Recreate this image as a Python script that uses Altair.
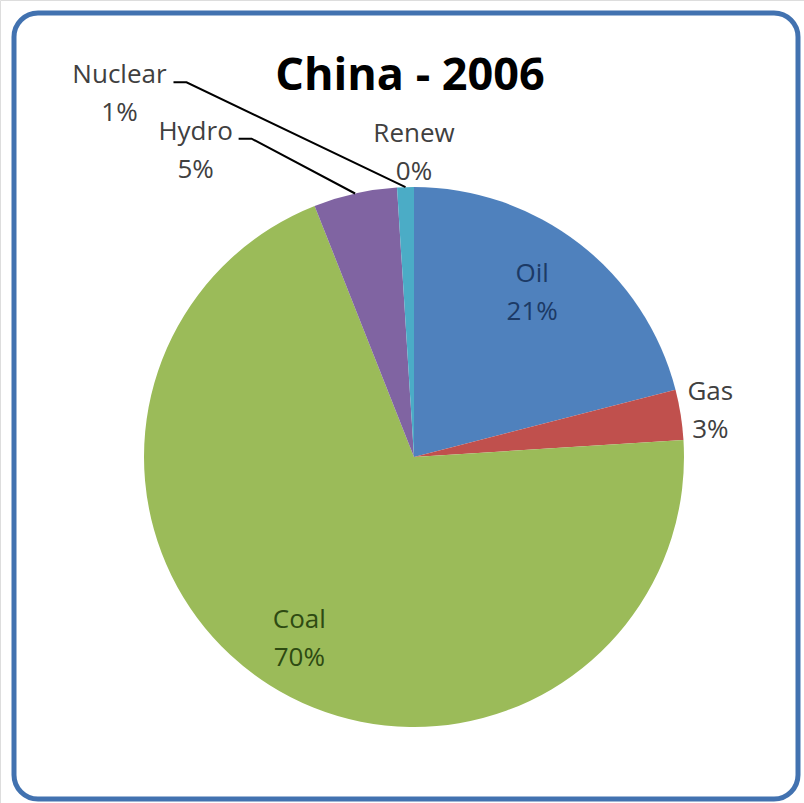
import math
import altair as alt
import pandas as pd

# Primary energy mix, China 2006 (percent of total)
CATEGORIES = ["Oil", "Gas", "Coal", "Hydro", "Nuclear", "Renew"]
SHARES = [21, 3, 70, 5, 1, 0]
SLICE_COLORS = ["#4F81BD", "#C0504D", "#9BBB59", "#8064A2", "#4BACC6", "#F79646"]
TEXT_COLORS = ["#1c3a66", "#404040", "#2e4a12", "#404040", "#404040", "#404040"]

TITLE = "China - 2006"
FONT = "Open Sans"

# Pie geometry (pixels)
CX, CY, R = 414, 457, 270

# Label placement: distance from centre and angular nudge from slice mid-angle
LABEL_RADIUS = {"Oil": 203, "Gas": 300, "Coal": 214, "Hydro": 377, "Nuclear": 468, "Renew": 305}
LABEL_SHIFT = {"Oil": -2.2, "Gas": 0, "Coal": 0, "Hydro": -22.8, "Nuclear": -37.2, "Renew": 0}
# Leader lines for the labels pulled away from their slices: gap to the right of label centre
LEADER_GAP = {"Hydro": 43, "Nuclear": 54}

total = sum(SHARES)
pie = pd.DataFrame({"category": CATEGORIES, "share": SHARES, "order": range(len(CATEGORIES))})

labels, leaders = [], []
acc = 0.0
for cat, val, tcol in zip(CATEGORIES, SHARES, TEXT_COLORS):
    mid = (acc + val / 2) / total * 360
    acc += val
    ang = math.radians(mid + LABEL_SHIFT[cat])
    lx = CX + LABEL_RADIUS[cat] * math.sin(ang)
    ly = CY - LABEL_RADIUS[cat] * math.cos(ang)
    labels.append({"category": cat, "pct": f"{val}%", "x": lx, "y1": ly - 10, "y2": ly + 28, "tcol": tcol})
    if cat in LEADER_GAP:
        sx, sy = lx + LEADER_GAP[cat], ly - 11
        ex = CX + R * math.sin(math.radians(mid))
        ey = CY - R * math.cos(math.radians(mid))
        leaders += [
            {"category": cat, "seq": 0, "x": sx, "y": sy},
            {"category": cat, "seq": 1, "x": sx + 13, "y": sy},
            {"category": cat, "seq": 2, "x": ex, "y": ey},
        ]
lab = pd.DataFrame(labels)
lead = pd.DataFrame(leaders)

frame = alt.Chart(alt.Data(values=[{}])).mark_rect(
    fill="white", stroke="#4272b0", strokeWidth=5, cornerRadius=24
).encode(x=alt.value(14), x2=alt.value(798), y=alt.value(13), y2=alt.value(799))

slices = alt.Chart(pie).mark_arc(outerRadius=R).encode(
    theta=alt.Theta("share:Q", stack=True),
    color=alt.Color("category:N", scale=alt.Scale(domain=CATEGORIES, range=SLICE_COLORS), legend=None),
    order=alt.Order("order:Q"),
    x=alt.value(CX),
    y=alt.value(CY),
)

px = alt.X("x:Q", scale=None, axis=None)
tcolor = alt.Color("tcol:N", scale=None)

names = alt.Chart(lab).mark_text(font=FONT, fontSize=26, baseline="alphabetic", align="center").encode(
    x=px, y=alt.Y("y1:Q", scale=None, axis=None), text="category:N", color=tcolor
)
pcts = alt.Chart(lab).mark_text(font=FONT, fontSize=26, baseline="alphabetic", align="center").encode(
    x=px, y=alt.Y("y2:Q", scale=None, axis=None), text="pct:N", color=tcolor
)

leader_lines = alt.Chart(lead).mark_line(color="black", strokeWidth=2).encode(
    x=px, y=alt.Y("y:Q", scale=None, axis=None), detail="category:N", order="seq:Q"
)

title = alt.Chart(alt.Data(values=[{"t": TITLE}])).mark_text(
    font=FONT, fontSize=45, fontWeight="bold", baseline="alphabetic", align="center", color="black"
).encode(x=alt.value(410), y=alt.value(90), text="t:N")

chart = alt.layer(frame, slices, leader_lines, names, pcts, title).properties(
    width=804, height=803, padding=0, autosize=alt.AutoSizeParams(type="none")
).configure_view(stroke=None).configure(background="white")

chart.save("out.html", embed_options={"renderer": "svg", "actions": False})
